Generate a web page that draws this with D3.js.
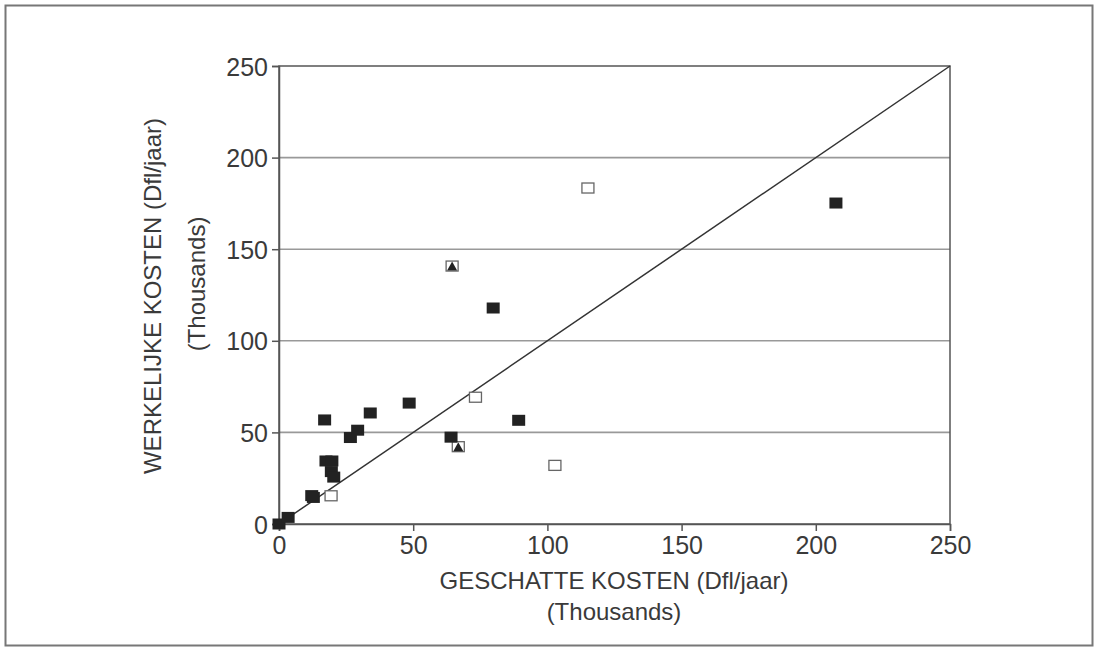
<!DOCTYPE html>
<html>
<head>
<meta charset="utf-8">
<script src="https://cdn.jsdelivr.net/npm/d3@7"></script>
<style>
  body { margin: 0; background: #fff; }
  text { font-family: "Liberation Sans", Arial, sans-serif; fill: #3a3a3a; }
</style>
</head>
<body>
<script>
// values in thousands of Dfl/jaar
var xTicks = [0, 50, 100, 150, 200, 250];
var yTicks = [0, 50, 100, 150, 200, 250];
var gridValues = [50, 100, 150, 200];

// filled black squares [geschat, werkelijk]
var filledPts = [
    [0, 0], [3.4, 3.6], [12.2, 15.5], [12.8, 14.5],
    [17, 56.8], [17.5, 34.4], [19.7, 34.4], [19.5, 28.6], [20.4, 25.6],
    [26.6, 47.2], [29.3, 51.2], [34, 60.6], [48.5, 66],
    [64.1, 47.4], [79.8, 117.9], [89.3, 56.6], [207.5, 175.2]
];
// open squares
var openPts = [
    [19.4, 15.4], [73.2, 69.2], [102.8, 32.0], [115.1, 183.4]
];
// open squares with a triangle
var triPts = [
    [64.5, 140.8], [66.8, 42.2]
];

function main() {
    var width = 1098,
        height = 648;

    var svg = d3.select("body")
        .append("svg")
        .attr("width", width)
        .attr("height", height);

    // outer frame
    svg.append("rect")
        .attr("x", 5.5).attr("y", 5.5)
        .attr("width", 1087).attr("height", 640)
        .attr("fill", "none")
        .attr("stroke", "#777")
        .attr("stroke-width", 2);

    var x = d3.scaleLinear().domain([0, 250]).range([279, 950]);
    var y = d3.scaleLinear().domain([0, 250]).range([524, 66]);

    // gridlines
    svg.selectAll(".grid")
        .data(gridValues)
        .enter().append("line")
        .attr("class", "grid")
        .attr("x1", x(0)).attr("x2", x(250))
        .attr("y1", d => y(d)).attr("y2", d => y(d))
        .attr("stroke", "#999")
        .attr("stroke-width", 1.6);

    // plot box
    svg.append("rect")
        .attr("x", x(0)).attr("y", y(250))
        .attr("width", x(250) - x(0)).attr("height", y(0) - y(250))
        .attr("fill", "none")
        .attr("stroke", "#555")
        .attr("stroke-width", 1.5);

    // axes
    var xAxis = svg.append("g")
        .attr("transform", "translate(0," + y(0) + ")")
        .call(d3.axisBottom(x).tickValues(xTicks).tickSize(7).tickPadding(5));
    var yAxis = svg.append("g")
        .attr("transform", "translate(" + x(0) + ",0)")
        .call(d3.axisLeft(y).tickValues(yTicks).tickSize(7).tickPadding(4));

    [xAxis, yAxis].forEach(function (ax) {
        ax.select(".domain").attr("stroke", "#555").attr("stroke-width", 1.5);
        ax.selectAll(".tick line").attr("stroke", "#555").attr("stroke-width", 1.5);
        ax.selectAll(".tick text")
            .style("font-family", "'Liberation Sans', Arial, sans-serif")
            .style("font-size", "25px")
            .attr("fill", "#3a3a3a");
    });
    yAxis.selectAll(".tick text").attr("dy", "0.36em");

    // diagonal: geschat == werkelijk
    svg.append("line")
        .attr("x1", x(0)).attr("y1", y(0))
        .attr("x2", x(250)).attr("y2", y(250))
        .attr("stroke", "#333")
        .attr("stroke-width", 1.5);

    var sw = 13, sh = 11;

    // open squares
    svg.selectAll(".open")
        .data(openPts.concat(triPts))
        .enter().append("rect")
        .attr("x", d => x(d[0]) - sw / 2 + 0.5)
        .attr("y", d => y(d[1]) - sh / 2 + 0.5)
        .attr("width", sw - 1).attr("height", sh - 1)
        .attr("fill", "#fff")
        .attr("stroke", "#666")
        .attr("stroke-width", 1.3);

    // triangles inside
    svg.selectAll(".tri")
        .data(triPts)
        .enter().append("path")
        .attr("d", function (d) {
            var cx = x(d[0]), cy = y(d[1]);
            return "M" + cx + "," + (cy - 4.5) + "L" + (cx + 5) + "," + (cy + 4.5) + "L" + (cx - 5) + "," + (cy + 4.5) + "Z";
        })
        .attr("fill", "#222");

    // filled squares
    svg.selectAll(".filled")
        .data(filledPts)
        .enter().append("rect")
        .attr("x", d => x(d[0]) - sw / 2)
        .attr("y", d => y(d[1]) - sh / 2)
        .attr("width", sw).attr("height", sh)
        .attr("fill", "#222");

    // axis titles
    var xMid = 614;
    svg.append("text")
        .attr("x", xMid).attr("y", 589)
        .attr("text-anchor", "middle")
        .style("font-size", "24px")
        .text("GESCHATTE KOSTEN (Dfl/jaar)");
    svg.append("text")
        .attr("x", xMid).attr("y", 620)
        .attr("text-anchor", "middle")
        .style("font-size", "24px")
        .text("(Thousands)");

    svg.append("text")
        .attr("transform", "translate(161,296) rotate(-90)")
        .attr("text-anchor", "middle")
        .style("font-size", "24px")
        .text("WERKELIJKE KOSTEN (Dfl/jaar)");
    svg.append("text")
        .attr("transform", "translate(205,284) rotate(-90)")
        .attr("text-anchor", "middle")
        .style("font-size", "24px")
        .text("(Thousands)");
}

window.onload = main;
</script>
</body>
</html>
